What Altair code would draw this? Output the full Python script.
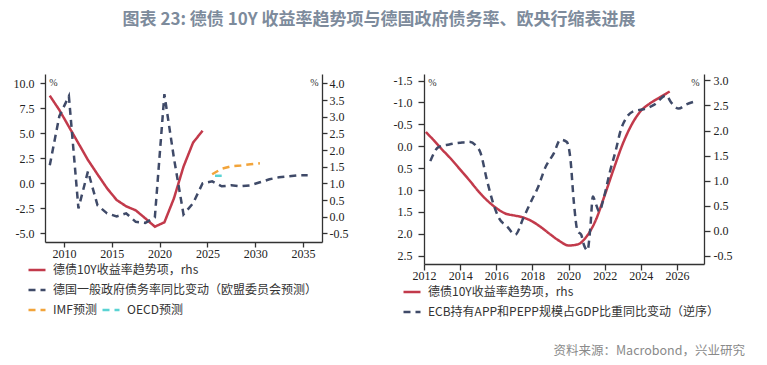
import altair as alt
import pandas as pd

# ---------------- data ----------------
# Left panel: German 10Y yield trend (rhs) and general government debt ratio yoy change (lhs)
red_years_l = [2008.5, 2009.5, 2010.5, 2011.5, 2012.5, 2013.5, 2014.5, 2015.5, 2016.5,
               2017.5, 2018.5, 2019.5, 2020.5, 2021.5, 2022.5, 2023.5, 2024.5]
red_vals_l = [3.63, 3.20, 2.70, 2.20, 1.70, 1.27, 0.85, 0.50, 0.31,
              0.19, -0.05, -0.30, -0.17, 0.55, 1.50, 2.22, 2.58]

gray_years_l = [2008.5, 2009.5, 2010.5, 2011.5, 2012.5, 2013.5, 2014.5, 2015.5, 2016.5,
                2017.5, 2018.5, 2019.5, 2020.5, 2021.5, 2022.5, 2023.5, 2024.5, 2025.5,
                2026.5, 2027.5, 2028.5, 2029.5, 2030.5, 2031.5, 2032.5, 2033.5, 2034.5, 2035.5]
gray_vals_l = [1.8, 6.7, 8.7, -2.5, 1.2, -2.2, -3.0, -3.3, -3.0,
               -3.85, -3.95, -3.4, 8.9, 2.5, -3.1, -2.0, 0.0, 0.2,
               -0.3, -0.2, -0.3, -0.2, 0.1, 0.4, 0.6, 0.7, 0.8, 0.8]

imf_years = [2025.5, 2026.5, 2027.5, 2028.5, 2029.5, 2030.5]
imf_vals = [0.9, 1.45, 1.7, 1.78, 1.9, 2.0]

oecd_years = [2025.8, 2026.5]
oecd_vals = [0.75, 0.75]

# Right panel: German 10Y yield trend (rhs) and ECB APP+PEPP holdings / GDP yoy change (lhs, reversed)
red_years_r = [2012.1, 2012.5, 2013.0, 2013.5, 2014.0, 2014.5, 2015.0, 2015.5, 2016.0, 2016.5,
               2017.0, 2017.5, 2018.0, 2018.5, 2019.0, 2019.5, 2020.0, 2020.5, 2021.0, 2021.5,
               2022.0, 2022.5, 2023.0, 2023.5, 2024.0, 2024.5, 2025.0, 2025.6]
red_vals_r = [1.97, 1.82, 1.62, 1.43, 1.22, 1.01, 0.79, 0.60, 0.45, 0.34,
              0.30, 0.26, 0.18, 0.06, -0.08, -0.21, -0.30, -0.28, -0.12, 0.20,
              0.70, 1.23, 1.73, 2.12, 2.39, 2.54, 2.65, 2.78]

ecb_years = [2012.35, 2012.8, 2013.4, 2014.0, 2014.5, 2014.9, 2015.1, 2015.5, 2015.85, 2016.15,
             2016.6, 2017.05, 2017.5, 2018.0, 2018.3, 2018.7, 2019.2, 2019.55, 2019.9, 2020.1,
             2020.3, 2020.5, 2020.7, 2020.85, 2021.05, 2021.2, 2021.35, 2021.5, 2021.7, 2021.95,
             2022.3, 2022.6, 2022.9, 2023.2, 2023.6, 2024.2, 2024.75, 2025.4, 2025.7, 2026.1,
             2026.5, 2026.9]
ecb_vals = [0.34, 0.02, -0.04, -0.08, -0.10, 0.0, 0.12, 0.80, 1.33, 1.64,
            1.83, 2.02, 1.64, 1.2, 0.95, 0.5, 0.15, -0.15, -0.1, 0.27,
            1.3, 1.94, 2.02, 2.25, 2.38, 1.9, 1.15, 1.3, 1.49, 1.18,
            0.57, 0.12, -0.38, -0.65, -0.8, -0.85, -0.95, -1.16, -0.99, -0.86,
            -0.95, -1.01]

# tick labels
ticks_x_l = [2010, 2015, 2020, 2025, 2030, 2035]
ticks_y_l_left = [-5.0, -2.5, 0.0, 2.5, 5.0, 7.5, 10.0]
ticks_y_l_right = [-0.5, 0.0, 0.5, 1.0, 1.5, 2.0, 2.5, 3.0, 3.5, 4.0]
ticks_x_r = [2012, 2014, 2016, 2018, 2020, 2022, 2024, 2026]
ticks_y_r_left = [-1.5, -1.0, -0.5, 0.0, 0.5, 1.0, 1.5, 2.0, 2.5]
ticks_y_r_right = [-0.5, 0.0, 0.5, 1.0, 1.5, 2.0, 2.5, 3.0]

S_RED = "德债10Y收益率趋势项，rhs"
S_GRAY_L = "德国一般政府债务率同比变动（欧盟委员会预测）"
S_IMF = "IMF预测"
S_OECD = "OECD预测"
S_ECB = "ECB持有APP和PEPP规模占GDP比重同比变动（逆序）"
MAIN_TITLE = "图表 23: 德债 10Y 收益率趋势项与德国政府债务率、欧央行缩表进展"
SOURCE = "资料来源：Macrobond，兴业研究"

# ---------------- styles ----------------
RED = "#c23a4b"
GRAY = "#3f4a68"
ORANGE = "#f2a43a"
CYAN = "#5ad3d3"
AXC = "#333333"
FONT_AX = "Liberation Serif, DejaVu Serif, serif"
FONT_LG = "Noto Sans CJK SC"
DASH = [7, 5]
SOLID = [1, 0]


def lbl(fmt):
    return f"(datum.value < 0 ? '-' : '') + format(abs(datum.value), '{fmt}')"


def frame(years, vals, series):
    return pd.DataFrame({"year": years, "value": vals, "series": series})


def legend(x, y, cols=1, colpad=10):
    return alt.Legend(title=None, orient="none", legendX=x, legendY=y, columns=cols,
                      symbolType="stroke", symbolSize=289, symbolStrokeWidth=2.5,
                      labelFont=FONT_LG, labelFontSize=12, labelColor="#333",
                      labelOffset=6, rowPadding=4, columnPadding=colpad, labelLimit=500,
                      padding=0)


def y_axis(orient, values, tx, pad, tick):
    return alt.Axis(orient=orient, values=values, labelExpr=lbl(".1f"), title="%",
                    titleAngle=0, titleX=tx, titleY=8, titleFont=FONT_AX, titleFontSize=10,
                    titleFontWeight="normal", titleColor="#333", titleBaseline="middle",
                    titleAlign="center", labelPadding=pad, tickSize=tick,
                    labelFont=FONT_AX, labelFontSize=12, labelFlush=False)


def x_axis(values, tick, pad=1):
    return alt.Axis(values=values, format="d", title=None, labelPadding=pad, tickSize=tick,
                    labelFont=FONT_AX, labelFontSize=12, labelFlush=False)


# ---------------- left panel ----------------
xl = alt.X("year:Q", scale=alt.Scale(domain=[2008, 2037], nice=False, zero=False),
           axis=x_axis(ticks_x_l, 5))

leg_l1 = legend(-18, 186)
col_l1 = alt.Color("series:N", scale=alt.Scale(domain=[S_RED, S_GRAY_L], range=[RED, GRAY]), legend=leg_l1)
dash_l1 = alt.StrokeDash("series:N", scale=alt.Scale(domain=[S_RED, S_GRAY_L], range=[SOLID, DASH]), legend=leg_l1)

red_l = alt.Chart(frame(red_years_l, red_vals_l, S_RED)).mark_line(strokeWidth=2.5).encode(
    x=xl,
    y=alt.Y("value:Q", scale=alt.Scale(domain=[-0.76, 4.28], nice=False, zero=False),
            axis=y_axis("right", ticks_y_l_right, -8, 2, 5)),
    color=col_l1, strokeDash=dash_l1)

gray_l = alt.Chart(frame(gray_years_l, gray_vals_l, S_GRAY_L)).mark_line(strokeWidth=2.5).encode(
    x=xl,
    y=alt.Y("value:Q", scale=alt.Scale(domain=[-5.86, 10.91], nice=False, zero=False),
            axis=y_axis("left", ticks_y_l_left, 8, 6, 5)),
    color=col_l1, strokeDash=dash_l1)

leg_l2 = legend(-18, 226, cols=2, colpad=0)
col_l2 = alt.Color("series:N", scale=alt.Scale(domain=[S_IMF, S_OECD], range=[ORANGE, CYAN]), legend=leg_l2)
dash_l2 = alt.StrokeDash("series:N", scale=alt.Scale(domain=[S_IMF, S_OECD], range=[DASH, DASH]), legend=leg_l2)
y_fc = alt.Y("value:Q", scale=alt.Scale(domain=[-5.86, 10.91], nice=False, zero=False), axis=None)

fc_df = pd.concat([frame(imf_years, imf_vals, S_IMF), frame(oecd_years, oecd_vals, S_OECD)])
fc_l = alt.Chart(fc_df).mark_line(strokeWidth=2.5).encode(
    x=xl, y=y_fc, color=col_l2, strokeDash=dash_l2, detail="series:N")

left = alt.layer(
    alt.layer(red_l, gray_l).resolve_scale(y="independent"),
    fc_l,
).resolve_scale(y="independent", color="independent", strokeDash="independent").properties(
    width=277, height=168)

# ---------------- right panel ----------------
xr = alt.X("year:Q", scale=alt.Scale(domain=[2012, 2027.5], nice=False, zero=False),
           axis=x_axis(ticks_x_r, 6, pad=0))

leg_r = legend(-22, 208)
col_r = alt.Color("series:N", scale=alt.Scale(domain=[S_RED, S_ECB], range=[RED, GRAY]), legend=leg_r)
dash_r = alt.StrokeDash("series:N", scale=alt.Scale(domain=[S_RED, S_ECB], range=[SOLID, DASH]), legend=leg_r)

red_r = alt.Chart(frame(red_years_r, red_vals_r, S_RED)).mark_line(
    strokeWidth=2.5, interpolate="monotone").encode(
    x=xr,
    y=alt.Y("value:Q", scale=alt.Scale(domain=[-0.67, 3.13], nice=False, zero=False),
            axis=y_axis("right", ticks_y_r_right, -9, 3, 6)),
    color=col_r, strokeDash=dash_r)

ecb_r = alt.Chart(frame(ecb_years, ecb_vals, S_ECB)).mark_line(
    strokeWidth=2.5, interpolate="monotone").encode(
    x=xr,
    y=alt.Y("value:Q", scale=alt.Scale(domain=[-1.65, 2.69], nice=False, zero=False, reverse=True),
            axis=y_axis("left", ticks_y_r_left, 8, 6, 6)),
    color=col_r, strokeDash=dash_r)

right = alt.layer(red_r, ecb_r).resolve_scale(y="independent").properties(
    width=280, height=190,
    title=alt.TitleParams(SOURCE, orient="bottom", anchor="end", dx=13, offset=27,
                          font=FONT_LG, fontSize=12.5, fontWeight="normal", color="#8a8a8a"))

chart = alt.hconcat(left, right, spacing=45).resolve_scale(
    color="independent", strokeDash="independent").properties(
    title=alt.TitleParams(MAIN_TITLE, anchor="middle", font=FONT_LG, fontSize=17,
                          fontWeight="bold", color="#7d8b9c", offset=45),
    padding={"left": 5, "top": 3, "right": 0, "bottom": 0},
).configure_view(stroke=None).configure_axis(
    grid=False, domainColor=AXC, tickColor=AXC, domainWidth=1.3, tickWidth=1.3,
    labelFont=FONT_AX, labelFontSize=12, labelColor="#222")

chart.save("out.html", embed_options={"renderer": "svg", "actions": False})
